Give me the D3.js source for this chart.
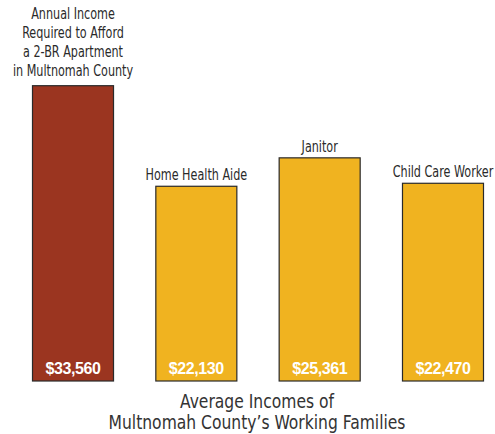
<!DOCTYPE html>
<html><head><meta charset="utf-8">
<script src="https://cdn.jsdelivr.net/npm/d3@7"></script>
<style>body{margin:0;background:#fff}</style>
</head><body>
<svg id="c" width="495" height="434"></svg>
<script>
const categories = ["Annual Income|Required to Afford|a 2-BR Apartment|in Multnomah County", "Home Health Aide", "Janitor", "Child Care Worker"];
const values = [33560, 22130, 25361, 22470];
const barColors = ["#9b3520", "#f0b320", "#f0b320", "#f0b320"];
const valueLabels = ["$33,560", "$22,130", "$25,361", "$22,470"];
const titleLines = ["Average Incomes of", "Multnomah County\u2019s Working Families"];

const svg = d3.select("#c");
const x = d3.scaleBand().domain(categories).range([32, 484]).paddingInner(0.335).paddingOuter(0);
const y = d3.scaleLinear().domain([0, 33560]).range([381, 85.7]);
const narrow = "'DejaVu Sans Condensed','DejaVu Sans',sans-serif";

svg.selectAll("rect.bar").data(values).join("rect")
  .attr("class","bar")
  .attr("x",(d,i)=>x(categories[i])+0.5)
  .attr("y",d=>y(d))
  .attr("width",x.bandwidth()-1)
  .attr("height",d=>y(0)-y(d))
  .attr("fill",(d,i)=>barColors[i])
  .attr("stroke","#2a2a2a").attr("stroke-width",1.2);

svg.selectAll("text.val").data(values).join("text")
  .attr("class","val")
  .attr("x",(d,i)=>x(categories[i])+x.bandwidth()/2)
  .attr("y",y(0)-7.5)
  .attr("text-anchor","middle")
  .attr("font-family","'Liberation Sans',Arial,sans-serif")
  .attr("font-weight","bold").attr("font-size",16).attr("letter-spacing",-0.4).attr("fill","#fff")
  .text((d,i)=>valueLabels[i]);

categories.forEach((c,i)=>{
  const lines = c.split("|");
  const cx = x(c)+x.bandwidth()/2;
  const t = svg.append("text")
    .attr("text-anchor","middle")
    .attr("transform",`translate(${cx},0) scale(0.83,1)`)
    .attr("font-family",narrow).attr("font-size",15).attr("fill","#2a2a2a");
  const off = lines.length > 1 ? 9.5 : 6;
  lines.forEach((l,j)=>{
    t.append("tspan").attr("x",0)
     .attr("y",y(values[i]) - off - (lines.length-1-j)*19)
     .text(l);
  });
});

const tt = svg.append("text").attr("text-anchor","middle")
  .attr("transform","translate(257,0) scale(0.865,1)")
  .attr("font-family",narrow).attr("font-size",20).attr("fill","#333");
titleLines.forEach((l,j)=>{
  tt.append("tspan").attr("x",0).attr("y",408.5+j*21).text(l);
});
</script>
</body></html>
